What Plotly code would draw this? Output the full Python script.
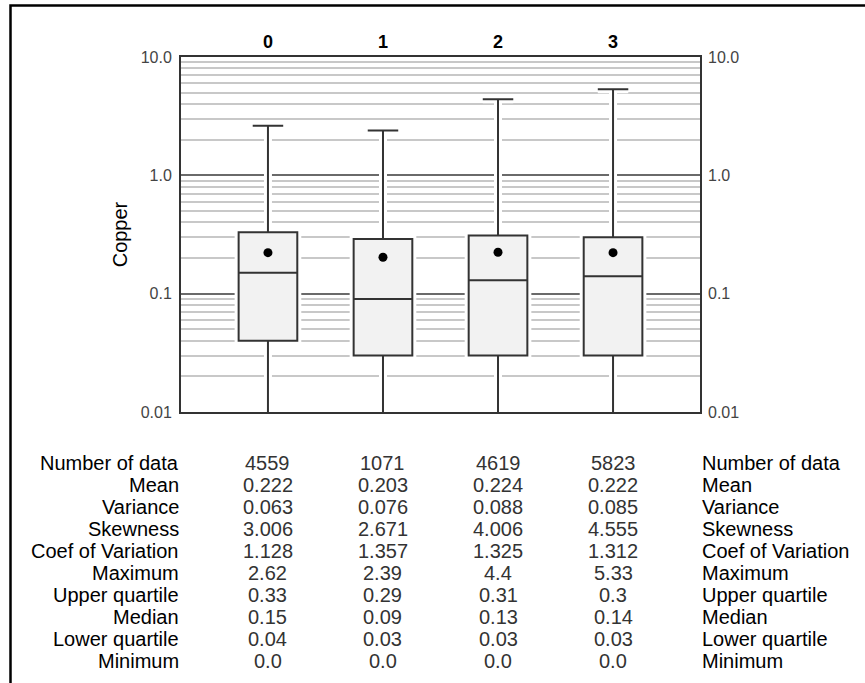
import plotly.graph_objects as go

# ---------------- data ----------------
categories = ["0", "1", "2", "3"]
n_data = [4559, 1071, 4619, 5823]
mean = [0.222, 0.203, 0.224, 0.222]
variance = [0.063, 0.076, 0.088, 0.085]
skewness = [3.006, 2.671, 4.006, 4.555]
coef_var = [1.128, 1.357, 1.325, 1.312]
maximum = [2.62, 2.39, 4.4, 5.33]
upper_q = [0.33, 0.29, 0.31, 0.3]
median = [0.15, 0.09, 0.13, 0.14]
lower_q = [0.04, 0.03, 0.03, 0.03]
minimum = [0.0, 0.0, 0.0, 0.0]

y_tickvals = [0.01, 0.1, 1.0, 10.0]
y_ticktext = ["0.01", "0.1", "1.0", "10.0"]
y_minor = [k * d for d in (0.01, 0.1, 1.0) for k in range(2, 10)]
y_log_range = [-2, 1]

row_labels = ["Number of data", "Mean", "Variance", "Skewness", "Coef of Variation",
              "Maximum", "Upper quartile", "Median", "Lower quartile", "Minimum"]
row_values = [n_data, mean, variance, skewness, coef_var,
              maximum, upper_q, median, lower_q, minimum]

# ---------------- layout geometry (pixels) ----------------
W, H = 865, 683
L, R, T, B = 181, 700, 57, 412
PW, PH = R - L, B - T
FONT = "Liberation Sans, Arial, Helvetica, sans-serif"

xpos = list(range(len(categories)))
# log axis cannot show 0: clamp the lower whisker below the axis floor (clipped)
lower_fence = [m if m > 0 else 10 ** (y_log_range[0] - 1) for m in minimum]

fig = go.Figure()

# white halo so gridlines stop short of boxes and whiskers
fig.add_trace(go.Box(
    x=xpos, q1=lower_q, median=median, q3=upper_q,
    lowerfence=lower_fence, upperfence=maximum,
    width=0.51, whiskerwidth=0.52,
    fillcolor="white", line=dict(color="white", width=8),
    hoverinfo="skip", showlegend=False,
))
fig.add_trace(go.Box(
    x=xpos, q1=lower_q, median=median, q3=upper_q,
    lowerfence=lower_fence, upperfence=maximum,
    width=0.51, whiskerwidth=0.52,
    fillcolor="#f2f2f2", line=dict(color="#333333", width=2),
    hoverinfo="skip", showlegend=False,
))
fig.add_trace(go.Scatter(
    x=xpos, y=mean, mode="markers", xaxis="x", yaxis="y2",
    marker=dict(color="black", size=9),
    hoverinfo="skip", showlegend=False,
))

# ---------------- statistics table ----------------
annotations = []
for i, (lab, vals) in enumerate(zip(row_labels, row_values)):
    py = 463 + 22 * i
    yp = (B - py) / PH
    annotations.append(dict(text=lab, xref="paper", yref="paper", x=0, y=yp,
                            xanchor="right", yanchor="middle", showarrow=False,
                            font=dict(family=FONT, size=20, color="black")))
    annotations.append(dict(text=lab, xref="paper", yref="paper", x=1, y=yp,
                            xanchor="left", yanchor="middle", showarrow=False,
                            font=dict(family=FONT, size=20, color="black")))
    for xi, v in zip(xpos, vals):
        annotations.append(dict(text=str(v), xref="x", yref="paper", x=xi, y=yp,
                                xanchor="center", yanchor="middle", showarrow=False,
                                font=dict(family=FONT, size=20, color="#333333")))

# outer frame (right and bottom edges lie outside the picture)
shapes = [dict(type="rect", xref="paper", yref="paper",
               x0=(10.5 - L) / PW, x1=(875 - L) / PW,
               y0=(B - 5.5) / PH, y1=(B - 700) / PH,
               line=dict(color="black", width=2.5), fillcolor="rgba(0,0,0,0)")]

axis_line = dict(showline=True, linecolor="#333333", linewidth=2)

fig.update_layout(
    width=W, height=H,
    margin=dict(l=L, r=W - R, t=T, b=H - B, pad=0),
    paper_bgcolor="white", plot_bgcolor="white",
    font=dict(family=FONT, color="black"),
    boxmode="overlay",
    showlegend=False,
    xaxis=dict(
        type="linear", range=[-0.756, len(categories) - 1 + 0.756],
        tickvals=xpos, ticktext=categories, side="top",
        tickfont=dict(family=FONT, size=18, color="black", weight="bold"),
        showgrid=False, zeroline=False, ticks="", mirror=True, **axis_line,
    ),
    yaxis=dict(
        type="log", range=y_log_range,
        tickvals=y_tickvals, ticktext=y_ticktext,
        tickfont=dict(family=FONT, size=16, color="#444444"),
        ticks="", ticklabelstandoff=4,
        showgrid=True, gridcolor="#6a6a6a", gridwidth=2,
        minor=dict(tickvals=y_minor, showgrid=True, gridcolor="#c8c8c8",
                   gridwidth=1.5, ticks=""),
        zeroline=False, mirror=True, **axis_line,
        title=dict(text="Copper", font=dict(family=FONT, size=20, color="black"),
                   standoff=8),
    ),
    yaxis2=dict(
        type="log", range=y_log_range, overlaying="y", side="right",
        tickvals=y_tickvals, ticktext=y_ticktext,
        tickfont=dict(family=FONT, size=16, color="#444444"),
        ticks="", ticklabelstandoff=7,
        showgrid=False, zeroline=False, showline=False,
    ),
    annotations=annotations,
    shapes=shapes,
)

fig.write_html("out.html",
               config={"displayModeBar": False},
               post_script="document.body.style.margin='0';"
                           "document.body.style.overflow='hidden';")
